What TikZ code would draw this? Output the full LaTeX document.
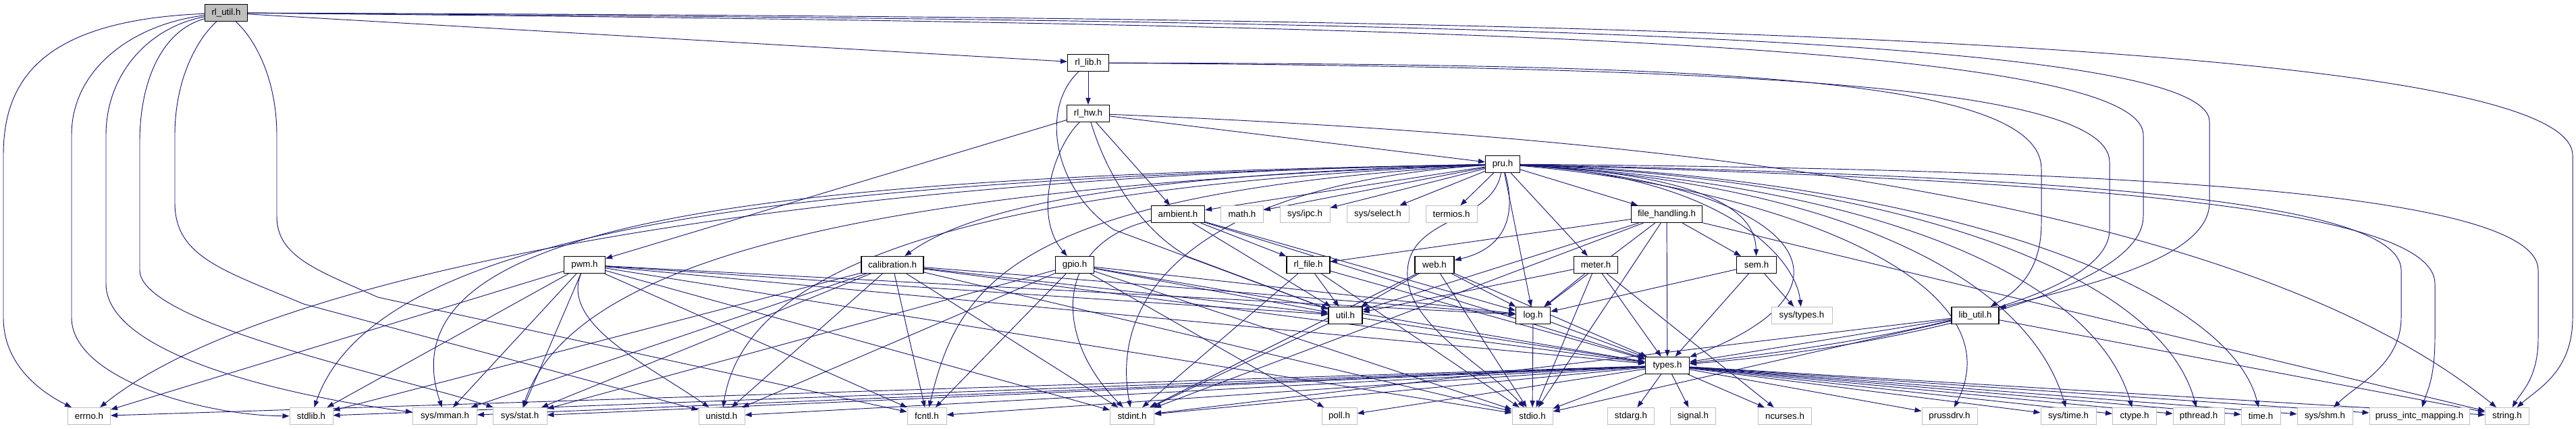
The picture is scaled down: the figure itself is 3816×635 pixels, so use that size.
\documentclass[tikz,border=0pt]{standalone}
\usepackage{fontspec}
\setmainfont{Liberation Sans}
\usepackage{tikz}
\usetikzlibrary{backgrounds,arrows.meta}
\definecolor{edgeblue}{RGB}{25,25,112}
\definecolor{extgray}{RGB}{191,191,191}

\begin{document}
\begin{tikzpicture}[
            x=0.75pt, y=-0.75pt,
            filebox/.style={
                rectangle, draw=black, fill=white,
                line width=0.9pt,
                minimum height=18.75pt,
                inner xsep=2pt, inner ysep=0pt
            },
            rootbox/.style={filebox, fill=extgray},
            extbox/.style={filebox, draw=extgray, line width=0.75pt},
            dep/.style={draw=edgeblue, line width=0.7pt, -{Triangle[length=7.5pt,width=5.5pt]}},
        ]

            \useasboundingbox (0,0) rectangle (3816,635);

            \node [rootbox, minimum width=47.25pt] (rlutil)       at (335,19)   {rl\_util.h};
            \node [filebox, minimum width=45.75pt] (rllib)        at (1612,93)  {rl\_lib.h};
            \node [filebox, minimum width=47.25pt] (rlhw)         at (1612,168) {rl\_hw.h};
            \node [filebox, minimum width=38.25pt] (pru)          at (2226,243) {pru.h};

            \node [filebox, minimum width=59.25pt] (ambient)      at (1745,317) {ambient.h};
            \node [extbox,  minimum width=47.25pt] (math)         at (1840,317) {math.h};
            \node [extbox,  minimum width=55.5pt]  (sysipc)       at (1933,317) {sys/ipc.h};
            \node [extbox,  minimum width=69pt]    (sysselect)    at (2041,317) {sys/select.h};
            \node [extbox,  minimum width=57pt]    (termios)      at (2150,317) {termios.h};
            \node [filebox, minimum width=78.75pt] (filehandling) at (2469,317) {file\_handling.h};

            \node [filebox, minimum width=45.75pt] (pwm)          at (866,392)  {pwm.h};
            \node [filebox, minimum width=69pt]    (calibration)  at (1322,392) {calibration.h};
            \node [filebox, minimum width=42.75pt] (gpio)         at (1592,392) {gpio.h};
            \node [filebox, minimum width=48pt]    (rlfile)       at (1938,392) {rl\_file.h};
            \node [filebox, minimum width=43.5pt]  (web)          at (2125,392) {web.h};
            \node [filebox, minimum width=48.75pt] (meter)        at (2364,392) {meter.h};
            \node [filebox, minimum width=44.25pt] (sem)          at (2602,392) {sem.h};

            \node [filebox, minimum width=37.5pt]  (util)         at (1993,467) {util.h};
            \node [filebox, minimum width=38.25pt] (log)          at (2271,467) {log.h};
            \node [extbox,  minimum width=67.5pt]  (systypes)     at (2669,467) {sys/types.h};
            \node [filebox, minimum width=52.5pt]  (libutil)      at (2926,467) {lib\_util.h};

            \node [filebox, minimum width=48.75pt] (types)        at (2470,541) {types.h};

            \node [extbox, minimum width=47.25pt] (errno)     at (132,616)  {errno.h};
            \node [extbox, minimum width=48pt]    (stdlib)    at (461,616)  {stdlib.h};
            \node [extbox, minimum width=71.25pt] (sysmman)   at (659,616)  {sys/mman.h};
            \node [extbox, minimum width=60pt]    (sysstat)   at (770,616)  {sys/stat.h};
            \node [extbox, minimum width=51pt]    (unistd)    at (1069,616) {unistd.h};
            \node [extbox, minimum width=43.5pt]  (fcntl)     at (1373,616) {fcntl.h};
            \node [extbox, minimum width=48.75pt] (stdint)    at (1677,616) {stdint.h};
            \node [extbox, minimum width=39pt]    (poll)      at (1984,616) {poll.h};
            \node [extbox, minimum width=45pt]    (stdio)     at (2270,616) {stdio.h};
            \node [extbox, minimum width=51.75pt] (stdarg)    at (2416,616) {stdarg.h};
            \node [extbox, minimum width=50.25pt] (signal)    at (2508,616) {signal.h};
            \node [extbox, minimum width=59.25pt] (ncurses)   at (2644,616) {ncurses.h};
            \node [extbox, minimum width=61.5pt]  (prussdrv)  at (2888,616) {prussdrv.h};
            \node [extbox, minimum width=61.5pt]  (systime)   at (3064,616) {sys/time.h};
            \node [extbox, minimum width=48.75pt] (ctype)     at (3162,616) {ctype.h};
            \node [extbox, minimum width=57pt]    (pthread)   at (3257,616) {pthread.h};
            \node [extbox, minimum width=43.5pt]  (time)      at (3349,616) {time.h};
            \node [extbox, minimum width=61.5pt]  (sysshm)    at (3444,616) {sys/shm.h};
            \node [extbox, minimum width=111pt]   (prussintc) at (3584,616) {pruss\_intc\_mapping.h};
            \node [extbox, minimum width=48.75pt] (string)    at (3714,616) {string.h};

            \begin{scope}[on background layer]
            \draw [dep] (rlutil) .. controls (60,30) and (5,120) .. (5,230) -- (5,470) .. controls (5,540) and (60,580) .. (errno);
            \draw [dep] (rlutil) .. controls (200,35) and (106,100) .. (106,200) -- (106,470) .. controls (106,560) and (300,615) .. (stdlib);
            \draw [dep] (rlutil) .. controls (220,40) and (157,110) .. (157,200) -- (157,420) .. controls (157,530) and (450,590) .. (sysmman);
            \draw [dep] (rlutil) .. controls (240,45) and (207,120) .. (207,210) -- (207,400) .. controls (207,480) and (600,560) .. (sysstat);
            \draw [dep] (rlutil) .. controls (290,60) and (259,120) .. (259,200) -- (259,300) .. controls (259,380) and (330,400) .. (450,450) -- (unistd);
            \draw [dep] (rlutil) .. controls (380,60) and (410,120) .. (410,200) -- (410,320) .. controls (410,380) and (470,400) .. (560,440) -- (fcntl);
            \draw [dep] (rlutil) -- (rllib);
            \draw [dep] (rlutil) .. controls (2000,25) and (3811,40) .. (3811,230) -- (3811,470) .. controls (3811,550) and (3760,575) .. (string);
            \draw [dep] (rlutil) .. controls (2000,30) and (3273,45) .. (3273,180) -- (3273,300) .. controls (3273,390) and (3050,430) .. (libutil);
            \draw [dep] (rlutil) .. controls (2000,35) and (3175,55) .. (3175,200) -- (3175,320) .. controls (3175,440) and (2750,520) .. (types);

            \draw [dep] (rllib) -- (rlhw);
            \draw [dep] (rllib) .. controls (2500,95) and (3024,110) .. (3024,250) -- (3024,330) .. controls (3024,400) and (2990,430) .. (libutil);
            \draw [dep] (rllib) .. controls (2500,100) and (3125,120) .. (3125,240) -- (3125,340) .. controls (3125,450) and (2750,510) .. (types);
            \draw [dep] (rllib) .. controls (1540,160) and (1560,280) .. (1650,340) -- (util);

            \draw [dep] (rlhw) -- (pwm);
            \draw [dep] (rlhw) .. controls (1560,220) and (1530,320) .. (gpio);
            \draw [dep] (rlhw) -- (ambient);
            \draw [dep] (rlhw) -- (pru);
            \draw [dep] (rlhw) .. controls (1640,260) and (1690,340) .. (1760,380) -- (util);
            \draw [dep] (rlhw) .. controls (2400,200) and (3300,280) .. (string);

            \draw [dep] (pru) -- (ambient);
            \draw [dep] (pru) -- (math);
            \draw [dep] (pru) -- (sysipc);
            \draw [dep] (pru) -- (sysselect);
            \draw [dep] (pru) -- (termios);
            \draw [dep] (pru) -- (filehandling);
            \draw [dep] (pru) .. controls (1700,258) and (1450,300) .. (calibration);
            \draw [dep] (pru) .. controls (2250,330) and (2220,370) .. (web);
            \draw [dep] (pru) -- (meter);
            \draw [dep] (pru) .. controls (2550,260) and (2600,320) .. (sem);
            \draw [dep] (pru) -- (log);
            \draw [dep] (pru) .. controls (2650,270) and (2790,420) .. (types);
            \draw [dep] (pru) .. controls (2210,330) and (2090,320) .. (2085,400) .. controls (2080,480) and (2200,540) .. (stdio);
            \draw [dep] (pru) .. controls (1800,270) and (1640,420) .. (stdint);
            \draw [dep] (pru) .. controls (1200,265) and (560,330) .. (stdlib);
            \draw [dep] (pru) .. controls (1200,260) and (400,400) .. (errno);
            \draw [dep] (pru) .. controls (1500,285) and (1420,420) .. (fcntl);
            \draw [dep] (pru) .. controls (1150,262) and (560,320) .. (sysmman);
            \draw [dep] (pru) .. controls (1300,275) and (850,380) .. (sysstat);
            \draw [dep] (pru) .. controls (1350,280) and (1100,420) .. (unistd);
            \draw [dep] (pru) .. controls (2550,260) and (2660,380) .. (systypes);
            \draw [dep] (pru) .. controls (2700,270) and (3000,400) .. (systime);
            \draw [dep] (pru) .. controls (2750,270) and (3100,400) .. (ctype);
            \draw [dep] (pru) .. controls (2800,265) and (3200,400) .. (pthread);
            \draw [dep] (pru) .. controls (2850,262) and (3300,420) .. (time);
            \draw [dep] (pru) .. controls (2650,280) and (2990,420) .. (prussdrv);
            \draw [dep] (pru) .. controls (3000,260) and (3557,290) .. (3557,400) -- (3557,470) .. controls (3557,540) and (3490,570) .. (sysshm);
            \draw [dep] (pru) .. controls (3000,265) and (3607,300) .. (3607,420) -- (3607,500) .. controls (3607,560) and (3595,580) .. (prussintc);
            \draw [dep] (pru) .. controls (3100,250) and (3760,280) .. (3760,400) -- (3760,500) .. controls (3760,560) and (3735,580) .. (string);

            \draw [dep] (ambient) -- (rlfile);
            \draw [dep] (ambient) -- (util);
            \draw [dep] (ambient) -- (log);
            \draw [dep] (ambient) -- (types);
            \draw [dep] (ambient) .. controls (1560,360) and (1560,500) .. (stdint);

            \draw [dep] (calibration) -- (stdlib);
            \draw [dep] (calibration) -- (sysmman);
            \draw [dep] (calibration) -- (sysstat);
            \draw [dep] (calibration) -- (unistd);
            \draw [dep] (calibration) -- (fcntl);
            \draw [dep] (calibration) -- (stdint);
            \draw [dep] (calibration) -- (stdio);
            \draw [dep] (calibration) -- (util);
            \draw [dep] (calibration) -- (log);
            \draw [dep] (calibration) -- (types);

            \draw [dep] (pwm) -- (errno);
            \draw [dep] (pwm) -- (stdlib);
            \draw [dep] (pwm) -- (sysmman);
            \draw [dep] (pwm) -- (sysstat);
            \draw [dep] (pwm) .. controls (830,480) and (960,540) .. (unistd);
            \draw [dep] (pwm) -- (fcntl);
            \draw [dep] (pwm) -- (stdint);
            \draw [dep] (pwm) -- (stdio);
            \draw [dep] (pwm) -- (util);
            \draw [dep] (pwm) -- (log);
            \draw [dep] (pwm) -- (types);

            \draw [dep] (gpio) -- (unistd);
            \draw [dep] (gpio) -- (fcntl);
            \draw [dep] (gpio) -- (sysstat);
            \draw [dep] (gpio) -- (poll);
            \draw [dep] (gpio) -- (stdio);
            \draw [dep] (gpio) -- (util);
            \draw [dep] (gpio) -- (log);
            \draw [dep] (gpio) -- (types);

            \draw [dep] (rlfile) -- (util);
            \draw [dep] (rlfile) -- (types);
            \draw [dep] (rlfile) -- (stdint);
            \draw [dep] (rlfile) -- (stdio);

            \draw [dep] (filehandling) -- (rlfile);
            \draw [dep] (filehandling) -- (util);
            \draw [dep] (filehandling) -- (log);
            \draw [dep] (filehandling) -- (types);
            \draw [dep] (filehandling) -- (stdio);
            \draw [dep] (filehandling) -- (sem);
            \draw [dep] (filehandling) -- (string);
            \draw [dep] (filehandling) -- (stdint);

            \draw [dep] (web) -- (util);
            \draw [dep] (web) -- (log);
            \draw [dep] (web) -- (types);
            \draw [dep] (web) -- (stdint);
            \draw [dep] (web) -- (stdio);

            \draw [dep] (meter) -- (util);
            \draw [dep] (meter) -- (log);
            \draw [dep] (meter) -- (types);
            \draw [dep] (meter) -- (stdio);
            \draw [dep] (meter) -- (ncurses);

            \draw [dep] (sem) -- (systypes);
            \draw [dep] (sem) -- (log);
            \draw [dep] (sem) -- (types);

            \draw [dep] (util) -- (types);
            \draw [dep] (util) -- (stdint);

            \draw [dep] (log) -- (types);
            \draw [dep] (log) -- (stdio);

            \draw [dep] (libutil) -- (types);
            \draw [dep] (libutil) -- (stdio);
            \draw [dep] (libutil) -- (stdint);
            \draw [dep] (libutil) -- (string);

            \draw [dep] (types) -- (errno);
            \draw [dep] (types) -- (stdlib);
            \draw [dep] (types) -- (sysmman);
            \draw [dep] (types) -- (sysstat);
            \draw [dep] (types) -- (unistd);
            \draw [dep] (types) -- (fcntl);
            \draw [dep] (types) -- (stdint);
            \draw [dep] (types) -- (poll);
            \draw [dep] (types) -- (stdio);
            \draw [dep] (types) -- (stdarg);
            \draw [dep] (types) -- (signal);
            \draw [dep] (types) -- (ncurses);
            \draw [dep] (types) -- (prussdrv);
            \draw [dep] (types) -- (systime);
            \draw [dep] (types) -- (ctype);
            \draw [dep] (types) -- (pthread);
            \draw [dep] (types) -- (time);
            \draw [dep] (types) -- (sysshm);
            \draw [dep] (types) -- (prussintc);
            \draw [dep] (types) -- (string);
            \end{scope}

        \end{tikzpicture}
\end{document}
